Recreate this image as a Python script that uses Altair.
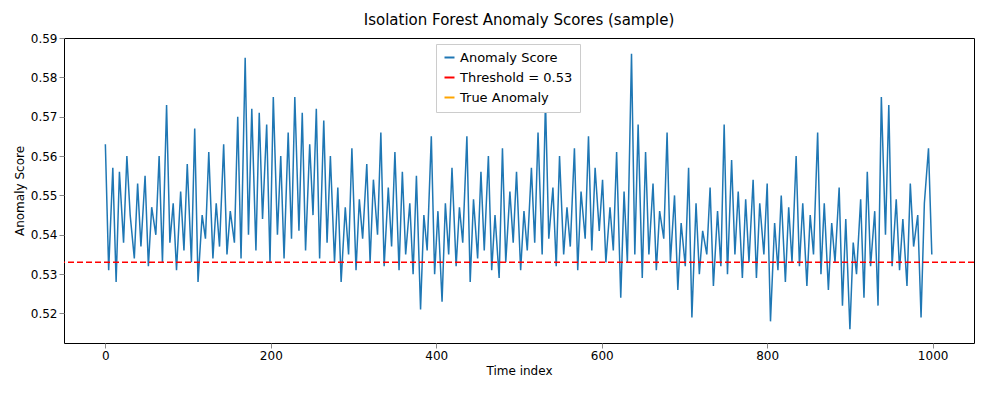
import altair as alt
import pandas as pd

scores = [
0.563,0.531,0.557,0.528,0.556,0.538,0.560,0.545,0.534,0.553,0.537,0.555,0.532,0.547,0.540,0.560,0.533,0.573,0.538,0.548,
0.531,0.551,0.536,0.558,0.533,0.567,0.528,0.545,0.539,0.561,0.534,0.548,0.537,0.563,0.535,0.546,0.538,0.570,0.534,0.585,
0.540,0.572,0.536,0.571,0.544,0.568,0.533,0.575,0.540,0.560,0.534,0.566,0.539,0.575,0.541,0.571,0.536,0.563,0.545,0.572,
0.534,0.569,0.538,0.560,0.533,0.552,0.528,0.547,0.535,0.562,0.531,0.549,0.539,0.558,0.533,0.554,0.540,0.566,0.532,0.552,
0.537,0.561,0.531,0.556,0.535,0.548,0.530,0.555,0.521,0.545,0.536,0.565,0.530,0.546,0.523,0.548,0.535,0.557,0.532,0.547,
0.538,0.565,0.528,0.549,0.534,0.556,0.536,0.560,0.531,0.545,0.529,0.562,0.533,0.551,0.538,0.556,0.531,0.546,0.536,0.557,
0.538,0.566,0.535,0.574,0.539,0.552,0.532,0.560,0.535,0.547,0.537,0.562,0.531,0.551,0.539,0.565,0.536,0.557,0.541,0.554,
0.533,0.547,0.536,0.561,0.524,0.551,0.533,0.586,0.535,0.568,0.529,0.561,0.535,0.553,0.531,0.546,0.539,0.566,0.533,0.550,
0.526,0.543,0.532,0.557,0.519,0.548,0.530,0.541,0.535,0.552,0.527,0.546,0.532,0.568,0.530,0.559,0.535,0.551,0.529,0.549,
0.533,0.554,0.529,0.548,0.535,0.553,0.518,0.543,0.531,0.550,0.528,0.547,0.533,0.560,0.532,0.548,0.527,0.545,0.535,0.566,
0.530,0.548,0.526,0.543,0.533,0.552,0.522,0.544,0.516,0.538,0.530,0.549,0.524,0.556,0.532,0.546,0.522,0.575,0.540,0.573,
0.532,0.549,0.531,0.544,0.527,0.553,0.537,0.545,0.519,0.548,0.562,0.535,
]
n = len(scores)
idx = [round(i * 999 / (n - 1)) for i in range(n)]
df = pd.DataFrame({"t": idx, "score": scores, "s": "Anomaly Score"})
thr = pd.DataFrame({"y": [0.533], "s": ["Threshold = 0.53"]})
anom = pd.DataFrame({"s": ["True Anomaly"], "t": [0], "score": [0.533]})

color = alt.Scale(domain=["Anomaly Score", "Threshold = 0.53", "True Anomaly"],
                  range=["#1f77b4", "red", "orange"])

line = alt.Chart(df).mark_line(strokeWidth=1.5).encode(
    x=alt.X("t:Q", title="Time index", scale=alt.Scale(domain=[-50, 1050], nice=False),
            axis=alt.Axis(values=[0, 200, 400, 600, 800, 1000], format="d", grid=False)),
    y=alt.Y("score:Q", title="Anomaly Score", scale=alt.Scale(domain=[0.5125, 0.59], nice=False),
            axis=alt.Axis(values=[0.52, 0.53, 0.54, 0.55, 0.56, 0.57, 0.58, 0.59], format=".2f", grid=False)),
    color=alt.Color("s:N", scale=color, title=None,
                    legend=alt.Legend(orient="none", legendX=372, legendY=6, fillColor="white",
                                      strokeColor="#ccc", padding=7, labelFontSize=13,
                                      symbolType="stroke", symbolStrokeWidth=2, rowPadding=6)),
)
rule = alt.Chart(thr).mark_rule(strokeDash=[6, 3], strokeWidth=1.5).encode(
    y="y:Q", color=alt.Color("s:N", scale=color))
pts = alt.Chart(anom).mark_point(opacity=0).encode(
    x="t:Q", y="score:Q", color=alt.Color("s:N", scale=color))

chart = (line + rule + pts).properties(
    width=910, height=305,
    title=alt.Title("Isolation Forest Anomaly Scores (sample)", fontSize=15, fontWeight="normal", font="DejaVu Sans"),
).configure_view(stroke="black").configure_axis(
    labelFontSize=12, titleFontSize=12, titleFontWeight="normal", domain=False,
    labelFont="DejaVu Sans", titleFont="DejaVu Sans"
).configure_legend(labelFont="DejaVu Sans")

chart.save("out.html", embed_options={"renderer": "svg", "actions": False})
